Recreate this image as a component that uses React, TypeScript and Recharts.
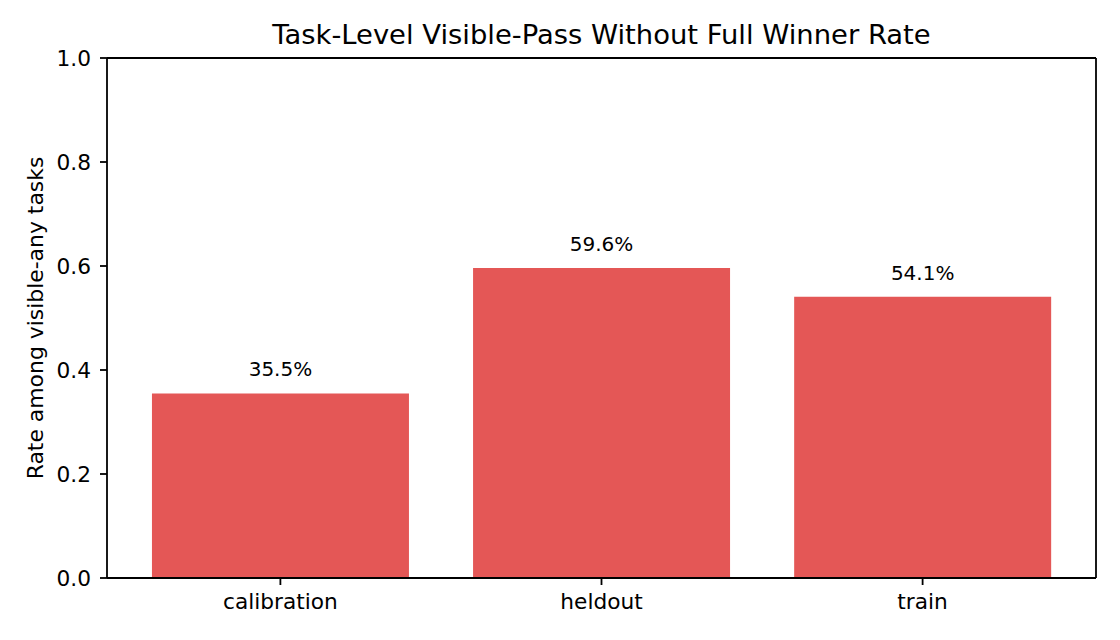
import React from "react";
import { BarChart, Bar, XAxis, YAxis, LabelList, ReferenceLine } from "recharts";

const categories = ["calibration", "heldout", "train"];
const rates = [0.355, 0.596, 0.541];
const yTicks = [0, 0.2, 0.4, 0.6, 0.8, 1.0];
const xTicks = [0, 1, 2];
const xDomain = [-0.54, 2.54];

const data = categories.map((c, i) => ({ x: i, name: c, rate: rates[i] }));

const FONT = "DejaVu Sans";
const SPINE = { stroke: "#000", strokeWidth: 1.8 };

export default function App() {
  return (
    <div style={{ position: "absolute", left: 0, top: 0, width: 1120, height: 640, background: "#fff" }}>
      <BarChart
        width={1120}
        height={640}
        data={data}
        margin={{ top: 58, right: 24, bottom: 0, left: 0 }}
        barCategoryGap="10%"
      >
        <text
          x={601.5}
          y={44}
          textAnchor="middle"
          fontFamily={FONT}
          fontSize={27.4}
          fill="#000"
        >
          Task-Level Visible-Pass Without Full Winner Rate
        </text>
        <XAxis
          dataKey="x"
          type="number"
          domain={xDomain}
          ticks={xTicks}
          allowDataOverflow
          tickFormatter={(v: number) => categories[v] ?? ""}
          height={62}
          axisLine={SPINE}
          tickLine={SPINE}
          tickSize={7}
          tickMargin={9}
          tick={{ fill: "#000", fontFamily: FONT, fontSize: 21.7 }}
        />
        <YAxis
          width={107}
          domain={[0, 1]}
          ticks={yTicks}
          allowDataOverflow
          tickFormatter={(v: number) => v.toFixed(1)}
          axisLine={SPINE}
          tickLine={SPINE}
          tickSize={7}
          tickMargin={9}
          tick={{ fill: "#000", fontFamily: FONT, fontSize: 21.7 }}
          label={{
            value: "Rate among visible-any tasks",
            angle: -90,
            position: "insideLeft",
            offset: 0,
            dx: 35,
            style: { textAnchor: "middle", fill: "#000", fontFamily: FONT, fontSize: 21.9 },
          }}
        />
        <ReferenceLine y={1} stroke="#000" strokeWidth={1.8} />
        <ReferenceLine x={xDomain[1]} stroke="#000" strokeWidth={1.8} />
        <Bar dataKey="rate" fill="#e45756" isAnimationActive={false}>
          <LabelList
            dataKey="rate"
            position="top"
            offset={17}
            formatter={(v: number) => (v * 100).toFixed(1) + "%"}
            style={{ fill: "#000", fontFamily: FONT, fontSize: 20 }}
          />
        </Bar>
      </BarChart>
    </div>
  );
}
